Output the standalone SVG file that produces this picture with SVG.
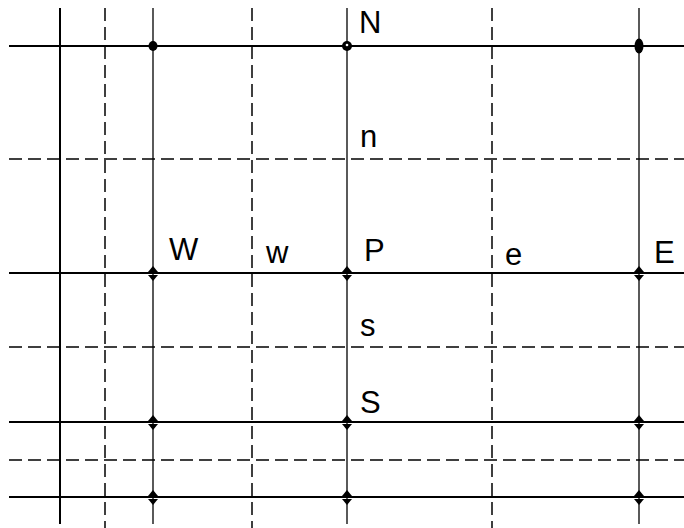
<svg xmlns="http://www.w3.org/2000/svg" width="684" height="528" viewBox="0 0 684 528">
<style>
.bg{fill:#fff}
.solid{stroke:#000;stroke-width:2;fill:none}
.thin{stroke:#000;stroke-width:1.3;fill:none}
.dash{stroke:#000;stroke-width:1.5;fill:none;stroke-dasharray:13 6}
.lbl{font-family:"Liberation Sans",Arial,sans-serif;font-size:31px;fill:#000}
.mk{fill:#000}
</style>
<defs>
<g id="arr"><path class="mk" d="M-5,-1 L5,-1 L0,-7 Z"/><path class="mk" d="M-5,2 L5,2 L0,8 Z"/></g>
</defs>
<rect class="bg" x="0" y="0" width="684" height="528"/>
<g id="connectors">
<line class="solid" x1="9" y1="46" x2="684" y2="46"/>
<line class="solid" x1="9" y1="273" x2="684" y2="273"/>
<line class="solid" x1="9" y1="422" x2="684" y2="422"/>
<line class="solid" x1="9" y1="497" x2="684" y2="497"/>
<line class="dash" x1="9" y1="159" x2="684" y2="159"/>
<line class="dash" x1="9" y1="347" x2="684" y2="347"/>
<line class="dash" x1="9" y1="460" x2="684" y2="460"/>
<line class="solid" x1="60" y1="8" x2="60" y2="524"/>
<line class="dash" x1="105" y1="8" x2="105" y2="528"/>
<line class="thin" x1="153" y1="8" x2="153" y2="524"/>
<line class="dash" x1="252" y1="8" x2="252" y2="528"/>
<line class="thin" x1="347" y1="8" x2="347" y2="524"/>
<line class="dash" x1="492" y1="8" x2="492" y2="528"/>
<line class="thin" x1="639" y1="8" x2="639" y2="524"/>
<use href="#arr" x="153" y="273"/><use href="#arr" x="347" y="273"/><use href="#arr" x="639" y="273"/>
<use href="#arr" x="153" y="422"/><use href="#arr" x="347" y="422"/><use href="#arr" x="639" y="422"/>
<use href="#arr" x="153" y="497"/><use href="#arr" x="347" y="497"/><use href="#arr" x="639" y="497"/>
<ellipse class="mk" cx="153" cy="46" rx="4.5" ry="5"/>
<ellipse class="mk" cx="639" cy="46" rx="4.5" ry="7.5"/>
</g>
<g id="node-N"><circle class="mk" cx="347" cy="46" r="5"/><circle fill="#fff" cx="347" cy="45" r="1.3"/><text class="lbl" x="359" y="33">N</text></g>
<g id="node-n"><text class="lbl" x="360" y="147">n</text></g>
<g id="node-W"><text class="lbl" x="169" y="260">W</text></g>
<g id="node-w"><text class="lbl" x="266" y="263">w</text></g>
<g id="node-P"><text class="lbl" x="364" y="261">P</text></g>
<g id="node-e"><text class="lbl" x="505" y="265">e</text></g>
<g id="node-E"><text class="lbl" x="654" y="263">E</text></g>
<g id="node-s"><text class="lbl" x="360" y="336">s</text></g>
<g id="node-S"><text class="lbl" x="360" y="413">S</text></g>
</svg>
